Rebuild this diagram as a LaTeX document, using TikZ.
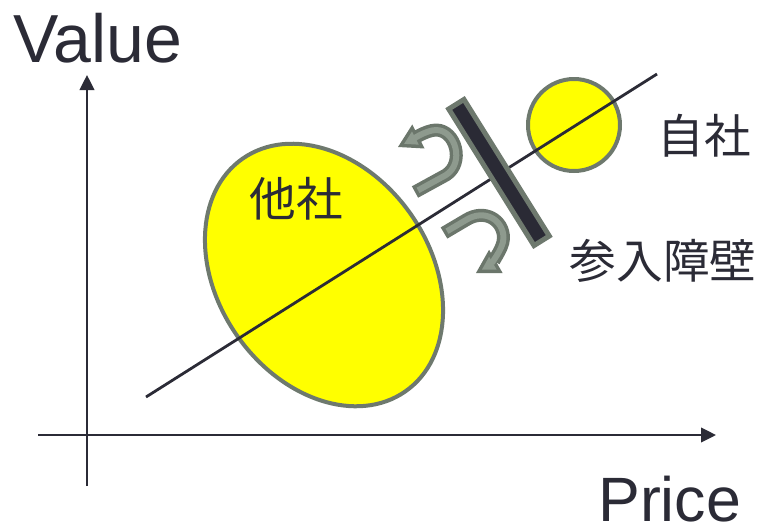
\documentclass[tikz,border=0pt]{standalone}
\usepackage{fontspec}
\setmainfont{Liberation Sans}
\newfontfamily\cjk{Noto Sans CJK JP}
\usetikzlibrary{arrows.meta,shapes.geometric}
\definecolor{ink}{HTML}{2B2B36}
\definecolor{gborder}{HTML}{6E796E}
\definecolor{ylw}{HTML}{FFFF00}
\definecolor{barrierc}{HTML}{2A2A35}
\definecolor{arrdark}{HTML}{6B766B}
\definecolor{arrlight}{HTML}{8E9A8E}
\begin{document}
\begin{tikzpicture}[x=0.75pt,y=-0.75pt,
  axis/.style={draw=ink,line width=1.4pt,-{Triangle[length=11.25pt,width=11pt]}},
  blob/.style={draw=gborder,fill=ylw,line width=3pt,inner sep=0pt},
  diag/.style={draw=ink,line width=2.1pt},
  bigtxt/.style={text=ink,inner sep=0pt},
  cjktxt/.style={text=ink,inner sep=0pt,font=\cjk\fontsize{35}{35}\selectfont},
  arrout/.style={draw=arrdark,line width=9.75pt,line cap=butt,line join=round,
     -{Triangle[length=17.25pt,width=20.25pt,line width=0pt]}},
  arrin/.style={draw=arrlight,line width=4.5pt,line cap=butt,line join=round,
     shorten <=2.6pt,shorten >=5.2pt,
     -{Triangle[length=9.45pt,width=11.1pt,line width=0pt]}}
]
\useasboundingbox (0,0) rectangle (760,526);
% axes
\coordinate (ybot) at (87,486);
\coordinate (ytop) at (87,75);
\coordinate (xleft) at (38,435);
\coordinate (xright) at (716,435);
\draw[axis] (ybot) -- (ytop);
\draw[axis] (xleft) -- (xright);
\node[bigtxt,anchor=base west,font=\fontsize{51}{51}\selectfont] (value) at (13,62) {Value};
\node[bigtxt,anchor=base west,font=\fontsize{47}{47}\selectfont] (price) at (598,521) {Price};
% blobs
\node[blob,ellipse,minimum width=159pt,minimum height=213pt,rotate=35] (other) at (324,275) {};
\node[blob,circle,minimum size=69pt] (self) at (574,125) {};
% diagonal
\coordinate (dstart) at (146,397);
\coordinate (dend) at (657,74);
\draw[diag] (dstart) -- (dend);
% barrier
\node[draw=gborder,fill=barrierc,line width=3.75pt,inner sep=0pt,
      minimum width=120.75pt,minimum height=13.5pt,rotate=-58] (barrier) at (499,172.5) {};
% U-turn arrows
\def\upperarrow{(415,192) -- (446,175) .. controls (464.6,163.3) and (456,130) .. (436,130)
   .. controls (426,130) and (408.7,141.5) .. (398,147)}
\def\lowerarrow{(444,233) -- (466,220) .. controls (484.6,208.3) and (503.5,220) .. (503.5,238)
   .. controls (503.5,250) and (488,266) .. (476,273)}
\draw[arrout] \upperarrow;
\draw[arrin] \upperarrow;
\draw[arrout] \lowerarrow;
\draw[arrin] \lowerarrow;
% labels
\node[cjktxt] (othertxt) at (296,199) {他社};
\node[cjktxt] (selftxt) at (704,136) {自社};
\node[cjktxt] (barriertxt) at (663,261) {参入障壁};
\end{tikzpicture}
\end{document}
